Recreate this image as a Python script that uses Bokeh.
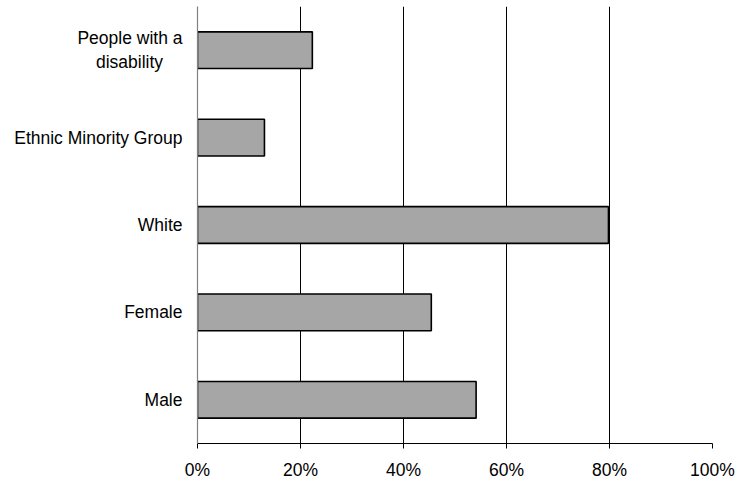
from bokeh.plotting import figure
from bokeh.models import FactorRange, FixedTicker, PrintfTickFormatter, Grid
from bokeh.embed import file_html
from bokeh.resources import INLINE

categories = ["Male", "Female", "White", "Ethnic Minority Group",
              "People with a\ndisability\u00a0\u00a0\u00a0\u00a0"]
values = [54.1, 45.4, 79.8, 13.0, 22.3]
x_ticks = [0, 20, 40, 60, 80, 100]

FONT = "Liberation Sans"

p = figure(width=750, height=482, output_backend="svg", toolbar_location=None,
           y_range=FactorRange(factors=categories, range_padding=0),
           x_range=(0, 100),
           min_border_left=197, min_border_right=38, min_border_top=6, min_border_bottom=38)

p.hbar(y=categories, right=values, left=0, height=0.42,
       fill_color="#a6a6a6", line_color="#000000", line_width=1.6)

p.outline_line_color = None
p.background_fill_color = None
p.border_fill_color = "#ffffff"

p.xgrid.ticker = FixedTicker(ticks=[20, 40, 60, 80])
p.xgrid.grid_line_color = "#000000"
p.xgrid.grid_line_width = 1
p.ygrid.grid_line_color = None
p.add_layout(Grid(dimension=0, ticker=FixedTicker(ticks=[100]),
                  grid_line_color="#808080", grid_line_width=1.2))

p.xaxis.ticker = FixedTicker(ticks=x_ticks)
p.xaxis.formatter = PrintfTickFormatter(format="%d%%")
p.xaxis.axis_line_color = "#000000"
p.xaxis.axis_line_width = 1
p.xaxis.major_tick_line_color = "#000000"
p.xaxis.major_tick_out = 5
p.xaxis.major_tick_in = 0
p.xaxis.minor_tick_line_color = None
p.xaxis.major_label_standoff = 11
p.xaxis.major_label_text_font = FONT
p.xaxis.major_label_text_font_size = "17.5px"
p.xaxis.major_label_text_color = "#000000"

p.yaxis.axis_line_color = "#808080"
p.yaxis.axis_line_width = 1.2
p.yaxis.major_tick_line_color = None
p.yaxis.minor_tick_line_color = None
p.yaxis.major_label_standoff = 9
p.yaxis.major_label_text_font = FONT
p.yaxis.major_label_text_font_size = "17.5px"
p.yaxis.major_label_text_color = "#000000"

open("out.html", "w").write(file_html(p, INLINE))
